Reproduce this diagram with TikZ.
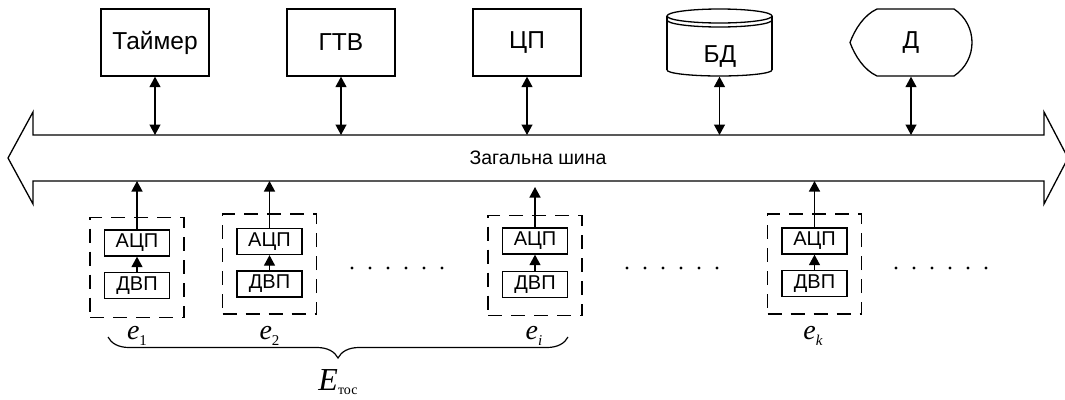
\documentclass[tikz,border=0pt]{standalone}
\usepackage{fontspec}
\setmainfont{Liberation Sans}
\newfontfamily\tnr{Liberation Serif}
\usetikzlibrary{arrows.meta,decorations.pathreplacing}
\begin{document}
\begin{tikzpicture}[x=1pt,y=-1pt,line width=1.3pt,
  tip/.style={-{Triangle[length=10.5pt,width=11pt]}},
  dtip/.style={{Triangle[length=10.5pt,width=11pt]}-{Triangle[length=10.5pt,width=11pt]}},
  topbox/.style={draw,minimum width=108pt,minimum height=67pt,inner sep=0pt,font=\fontsize{24.5}{24.5}\selectfont},
  plainbox/.style={minimum width=#1,minimum height=67pt,inner sep=0pt,font=\fontsize{24.5}{24.5}\selectfont},
  smallbox/.style={draw,minimum width=65pt,minimum height=26pt,inner sep=0pt,font=\fontsize{20}{20}\selectfont},
  dbox/.style={draw,dash pattern=on 14pt off 9pt,minimum width=94pt,minimum height=100pt,inner sep=0pt},
  elabel/.style={anchor=base,inner sep=0pt,font=\tnr\fontsize{28}{28}\selectfont\itshape}]
\useasboundingbox (0,0) rectangle (1065,399);

% bus
\draw[line join=miter] (33,135) -- (1044,135) -- (1044,112) -- (1068,158) -- (1044,204) -- (1044,181)
  -- (33,181) -- (33,204) -- (8,158) -- (33,112) -- cycle;
\node[font=\fontsize{19.5}{19.5}\selectfont] (bus) at (538,158) {Загальна шина};

% bus attachment points
\coordinate (t1) at (155,135);
\coordinate (t2) at (341,135);
\coordinate (t3) at (527,135);
\coordinate (t4) at (719.5,135);
\coordinate (t5) at (911,135);
\coordinate (b1) at (137,181);
\coordinate (b2) at (269.5,181);
\coordinate (b3) at (535,187);
\coordinate (b4) at (814.5,181);

% top devices
\node[topbox] (tim) at (155,42.5) {Таймер};
\node[topbox] (gtv) at (341,42.5) {ГТВ};
\node[topbox] (cp) at (527,42.5) {ЦП};

% database cylinder
\node[plainbox=105pt] (bd) at (719.5,42.5) {};
\draw (719.5,16) ellipse[x radius=52.5pt,y radius=7pt];
\draw (667,20) arc[start angle=180,end angle=360,x radius=52.5pt,y radius=7pt];
\draw (667,16) -- (667,70);
\draw (772,16) -- (772,70);
\draw (667,70) arc[start angle=180,end angle=360,x radius=52.5pt,y radius=6pt];
\node[font=\fontsize{24.5}{24.5}\selectfont] (bdt) at (720,57) {БД};

% display shape
\node[plainbox=122pt] (d) at (911,42.5) {Д};
\draw (877,9) -- (954,9) .. controls (978,25) and (978,60) .. (954,76) -- (877,76)
  .. controls (864,70) and (855,56) .. (850,42.5) .. controls (855,29) and (864,15) .. cycle;

% top arrows
\draw[dtip] (tim.south) -- (t1);
\draw[dtip] (gtv.south) -- (t2);
\draw[dtip] (cp.south) -- (t3);
\draw[dtip] (bd.south) -- (t4);
\draw[dtip] (d.south) -- (t5);

% modules
\node[dbox] (m1) at (137,267.5) {};
\node[smallbox] (a1) at (137,243) {АЦП};
\node[smallbox] (v1) at (137,285.5) {ДВП};
\draw[tip] (v1) -- (a1);
\draw[tip] (a1) -- (b1);

\node[dbox] (m2) at (269.5,264) {};
\node[smallbox] (a2) at (269.5,241.5) {АЦП};
\node[smallbox] (v2) at (269.5,284) {ДВП};
\draw[tip] (v2) -- (a2);
\draw[tip] (a2) -- (b2);

\node[dbox] (m3) at (535,265.5) {};
\node[smallbox] (a3) at (535,241) {АЦП};
\node[smallbox] (v3) at (535,284.5) {ДВП};
\draw[tip] (v3) -- (a3);
\draw[tip] (a3) -- (b3);

\node[dbox] (m4) at (814.5,264) {};
\node[smallbox] (a4) at (814.5,241) {АЦП};
\node[smallbox] (v4) at (814.5,283.5) {ДВП};
\draw[tip] (v4) -- (a4);
\draw[tip] (a4) -- (b4);

% dots
\foreach \k in {0,...,5} {
  \fill (352+18*\k,268) circle[radius=1.7pt];
  \fill (627+18*\k,268) circle[radius=1.7pt];
  \fill (896+18*\k,268) circle[radius=1.7pt];
}

% labels
\node[elabel] (e1) at (137,339) {e\raisebox{-6pt}{\upshape\fontsize{15}{15}\selectfont 1}};
\node[elabel] (e2) at (269.5,339) {e\raisebox{-6pt}{\upshape\fontsize{15}{15}\selectfont 2}};
\node[elabel] (ei) at (534,339) {e\raisebox{-6pt}{\fontsize{15}{15}\selectfont i}};
\node[elabel] (ek) at (813,339) {e\raisebox{-6pt}{\fontsize{15}{15}\selectfont k}};

% brace
\coordinate (brL) at (108,337);
\coordinate (brR) at (568,337);
\draw[line width=1.2pt,decorate,decoration={brace,amplitude=21pt}] (brR) -- (brL);
\node[anchor=base,inner sep=0pt,font=\tnr\fontsize{32}{32}\selectfont] (E) at (338,390)
  {\textit{E}\raisebox{-4pt}{\fontsize{14}{14}\selectfont тос}};
\end{tikzpicture}
\end{document}
